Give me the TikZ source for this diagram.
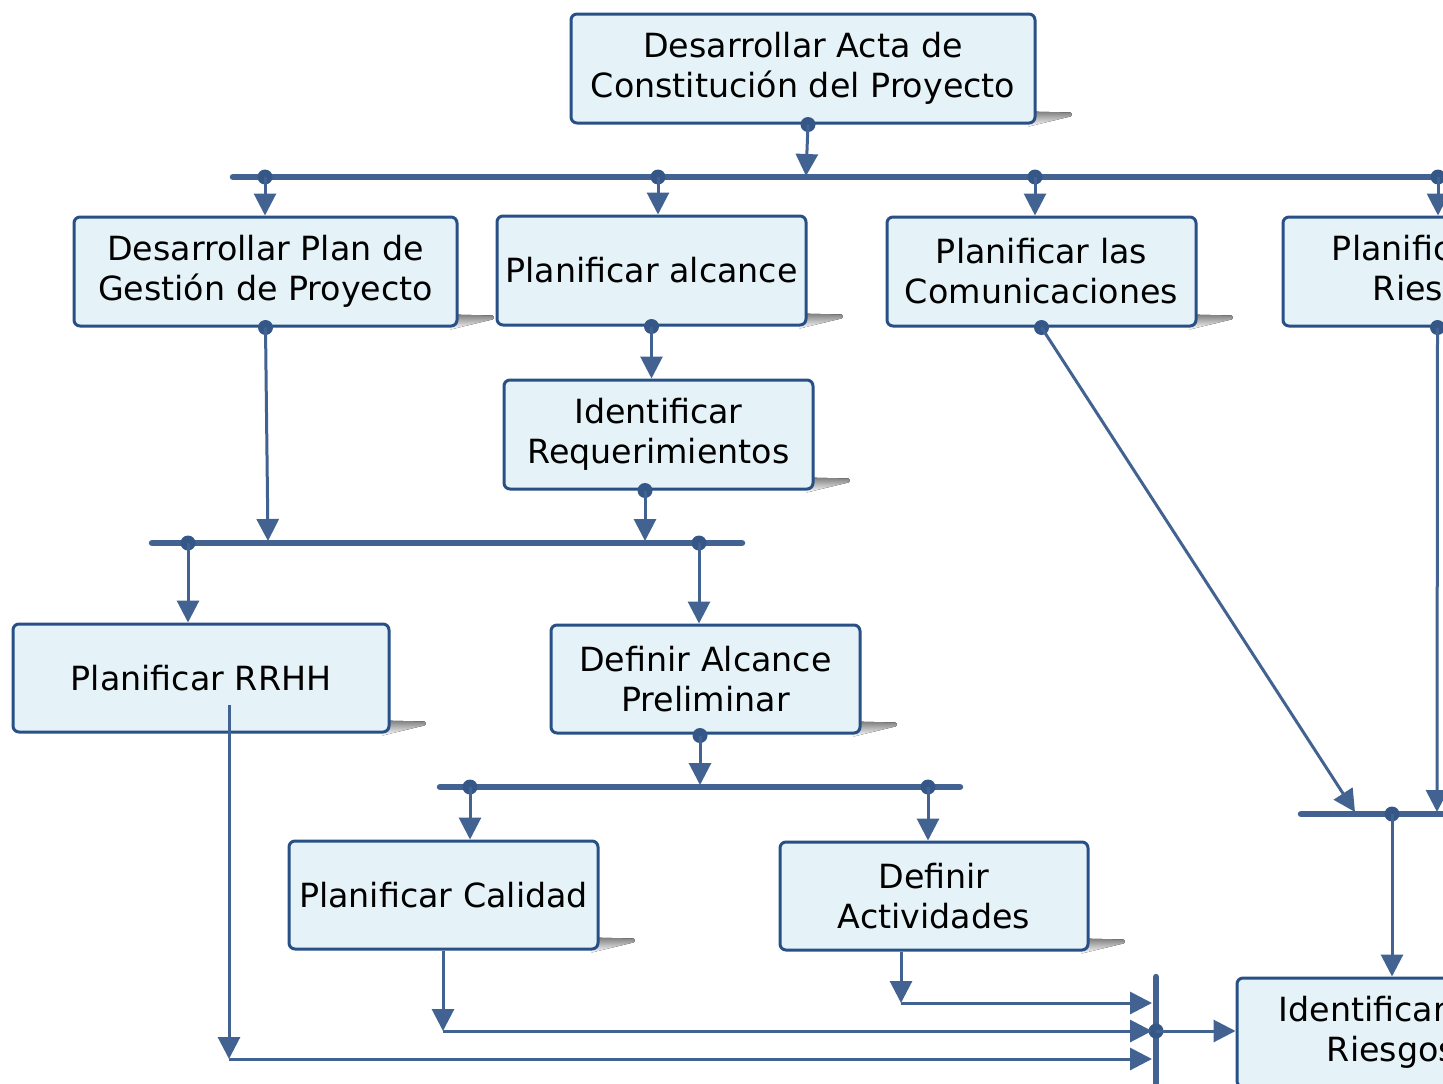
\documentclass[tikz,border=0pt]{standalone}
\usepackage{fontspec}
\setmainfont{DejaVu Sans}
\usetikzlibrary{arrows.meta,calc,backgrounds}
\definecolor{edgeblue}{RGB}{66,99,145}
\definecolor{jointblue}{RGB}{52,87,135}
\definecolor{boxline}{RGB}{40,80,135}
\definecolor{boxfill}{RGB}{229,243,248}
\definecolor{shade}{RGB}{185,185,185}
\tikzset{
  task/.style={draw=boxline, fill=boxfill, line width=3pt, rounded corners=6pt,
    minimum width=309pt, minimum height=109pt, align=center, inner sep=0pt,
    font=\fontsize{33.3}{40}\selectfont},
  bus/.style={draw=edgeblue, line width=6.5pt, line cap=round},
  link/.style={draw=edgeblue, line width=3pt, -{Triangle[length=22pt,width=22pt]}},
  joint/.style={fill=jointblue, circle, minimum size=15pt, inner sep=0pt},
}
% flat grey shadow peeking out at the lower right corner of a box
\newcommand\boxshadow[1]{%
  \begin{pgfonlayer}{background}
  \fill[shade] ($(#1.south east)+(-8,-13)$) -- ($(#1.south east)+(34,-12)$)
    to[out=0,in=0] ($(#1.south east)+(34,-8)$) -- ($(#1.south east)+(-8,2)$) -- cycle;
  \end{pgfonlayer}}
\begin{document}
\begin{tikzpicture}[x=1pt,y=-1pt]
\useasboundingbox (0,0) rectangle (1443,1084);
\begin{scope}
\clip (0,0) rectangle (1443,1084);

% ---- task boxes
\node[task, minimum width=464pt] (acta) at (803,68.5) {Desarrollar Acta de\\Constitución del Proyecto};
\node[task, minimum width=383pt] (plan) at (265.5,271.5) {Desarrollar Plan de\\Gestión de Proyecto};
\node[task] (alcance) at (651.5,270.5) {Planificar alcance};
\node[task] (comun) at (1041.5,271.5) {Planificar las\\Comunicaciones};
\node[task] (planrisk) at (1437.5,271.5) {Planificar los\\Riesgos};
\node[task] (req) at (658.5,434.5) {Identificar\\Requerimientos};
\node[task, minimum width=376pt, minimum height=108pt] (rrhh) at (201,678) {Planificar RRHH};
\node[task, minimum height=108pt] (defalc) at (705.5,679) {Definir Alcance\\Preliminar};
\node[task, minimum height=108pt] (calidad) at (443.5,895) {Planificar Calidad};
\node[task, minimum width=308pt, minimum height=108pt] (activ) at (934,896) {Definir\\Actividades};
\node[task] (idrisk) at (1391.5,1032.5) {Identificar los\\Riesgos};

\foreach \b in {acta,plan,alcance,comun,planrisk,req,rrhh,defalc,calidad,activ}{\boxshadow{\b}}

% ---- bus bars
\coordinate (b1w) at (233,177);  \coordinate (b1e) at (1470,177);
\coordinate (b2w) at (152,543);  \coordinate (b2e) at (742,543);
\coordinate (b3w) at (440,787);  \coordinate (b3e) at (960,787);
\coordinate (b4w) at (1301,814); \coordinate (b4e) at (1470,814);
\coordinate (b5n) at (1156,977); \coordinate (b5s) at (1156,1100);
\draw[bus] (b1w) -- (b1e);
\draw[bus] (b2w) -- (b2e);
\draw[bus] (b3w) -- (b3e);
\draw[bus] (b4w) -- (b4e);
\draw[bus] (b5n) -- (b5s);

% ---- landing points on the bars
\coordinate (in1) at (806,176);
\coordinate (in2a) at (268,541);
\coordinate (in2b) at (645,541);
\coordinate (in3) at (700,785);
\coordinate (in4a) at (1355,812);
\coordinate (in4b) at (1437,812);

% ---- junction dots
\node[joint] (o0) at ($(acta.south)+(5,0)$) {};
\node[joint] (j11) at (265,177) {};
\node[joint] (j12) at (658,177) {};
\node[joint] (j13) at (1035,177) {};
\node[joint] (j14) at (1438,177) {};
\node[joint] (o1) at (plan.south) {};
\node[joint] (o2) at (alcance.south) {};
\node[joint] (o3) at (comun.south) {};
\node[joint] (o4) at (planrisk.south) {};
\node[joint] (o5) at ($(req.south)+(-13.5,0)$) {};
\node[joint] (j21) at (188,543) {};
\node[joint] (j22) at (699,543) {};
\node[joint] (o6) at ($(defalc.south)+(-5.5,1)$) {};
\node[joint] (j31) at (470,787) {};
\node[joint] (j32) at (928,787) {};
\node[joint] (j41) at (1392,814) {};
\node[joint] (j51) at (1156,1031) {};

% ---- connectors
\draw[link] (o0.center) -- (in1);
\draw[link] (j11.center) -- (j11 |- plan.north);
\draw[link] (j12.center) -- (j12 |- alcance.north);
\draw[link] (j13.center) -- (j13 |- comun.north);
\draw[link] (j14.center) -- (j14 |- planrisk.north);
\draw[link] (o1.center) -- (in2a);
\draw[link] (o2.center) -- (o2 |- req.north);
\draw[link] (o5.center) -- (in2b);
\draw[link] (j21.center) -- (j21 |- rrhh.north);
\draw[link] (j22.center) -- (j22 |- defalc.north);
\draw[link] (o6.center) -- (in3);
\draw[link] (j31.center) -- (j31 |- calidad.north);
\draw[link] (j32.center) -- (j32 |- activ.north);
\draw[link] (o3.center) -- (in4a);
\draw[link] (o4.center) -- (in4b);
\draw[link] (j41.center) -- (j41 |- idrisk.north);
\draw[link] (j51.center) -- (j51 -| idrisk.west);

% ---- feeds into the vertical bar
\coordinate (a1) at ($(activ.south)+(-33,0)$);
\coordinate (a2) at (901,1003);
\coordinate (a3) at (1152,1003);
\draw[link] (a1) -- (a2);
\draw[link] (a2) -- (a3);
\coordinate (c1) at ($(calidad.south)+(-0.5,0)$);
\coordinate (c2) at (443,1031);
\coordinate (c3) at (1152,1031);
\draw[link] (c1) -- (c2);
\draw[link] (c2) -- (c3);
\coordinate (r1) at (229,705);
\coordinate (r2) at (229,1059);
\coordinate (r3) at (1152,1059);
\draw[link] (r1) -- (r2);
\draw[link] (r2) -- (r3);
\end{scope}
\end{tikzpicture}
\end{document}
